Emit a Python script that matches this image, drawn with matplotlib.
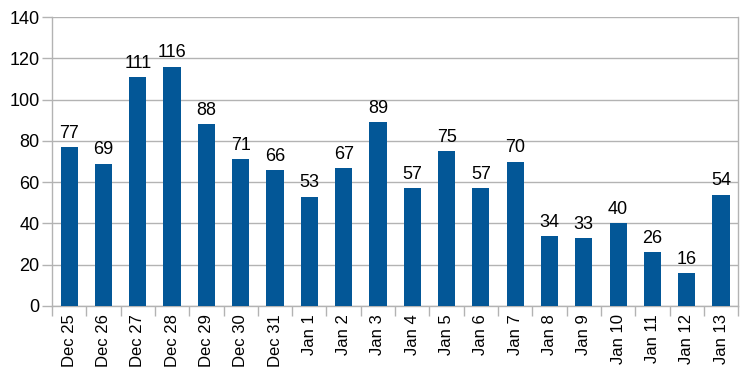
import matplotlib
matplotlib.use("Agg")
import matplotlib.pyplot as plt
import numpy as np

plt.rcParams['font.family'] = ['Liberation Sans', 'DejaVu Sans']

days = ["Dec 25", "Dec 26", "Dec 27", "Dec 28", "Dec 29", "Dec 30", "Dec 31",
        "Jan 1", "Jan 2", "Jan 3", "Jan 4", "Jan 5", "Jan 6", "Jan 7",
        "Jan 8", "Jan 9", "Jan 10", "Jan 11", "Jan 12", "Jan 13"]
counts = [77, 69, 111, 116, 88, 71, 66, 53, 67, 89, 57, 75, 57, 70,
          34, 33, 40, 26, 16, 54]

grid_col = '#b3b3b3'
bar_col = '#035797'

fig = plt.figure(figsize=(7.5, 3.8), dpi=100)
ax = fig.add_axes([0.0693, 0.195, 0.915, 0.76])

x = np.arange(len(days))
bars = ax.bar(x, counts, width=0.5, color=bar_col, zorder=3)
for xi, v in zip(x, counts):
    ax.text(xi, v + 2.5, str(v), ha='center', va='bottom', fontsize=13, color='black')

ax.set_xlim(-0.5, len(days) - 0.5)
ax.set_ylim(0, 140)
ax.set_yticks(range(0, 141, 20))
ax.yaxis.grid(True, color=grid_col, linewidth=1, zorder=0)

# category ticks sit between bars
ax.set_xticks(x)
ax.set_xticklabels(days, rotation=90, fontsize=12)
ax.tick_params(axis='x', length=0, pad=6)
ax.set_xticks(np.arange(-0.5, len(days), 1), minor=True)
ax.tick_params(axis='x', which='minor', length=7, color=grid_col, width=1)
ax.tick_params(axis='y', length=7, color=grid_col, width=1, labelsize=13, pad=2)

for s in ['left', 'right', 'bottom']:
    ax.spines[s].set_color(grid_col)
    ax.spines[s].set_linewidth(1)
ax.spines['top'].set_visible(False)

fig.savefig("out.png", dpi=100)
